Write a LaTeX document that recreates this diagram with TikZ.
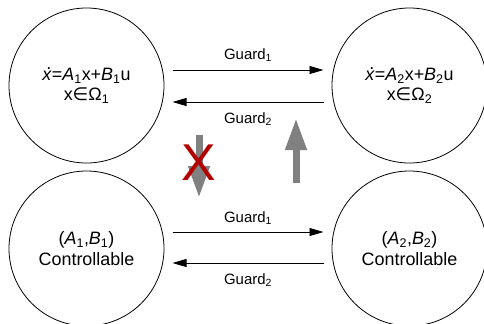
\documentclass[tikz,border=0pt]{standalone}
\usepackage{fontspec}
\setmainfont{Liberation Sans}
\newfontfamily\symfont{DejaVu Sans}
\usetikzlibrary{arrows.meta}
\newcommand{\xdot}{\rlap{\hspace{0.22em}\raisebox{0.62em}{.}}\textit{x}}
\newcommand{\lowidx}[1]{\textsubscript{#1}}
\tikzset{
  mode/.style={draw,circle,minimum size=155bp,inner sep=0pt,align=center,
    line width=.8bp,font=\fontsize{18}{20.5}\selectfont},
  guard/.style={-{Triangle[length=14bp,width=8bp]},line width=.9bp}}

\begin{document}
\begin{tikzpicture}[x=1bp,y=-1bp,
  guardlabel/.style={font=\fontsize{15}{17}\selectfont,inner sep=1bp},
  implies/.style={-{Triangle[length=32bp,width=20bp]},line width=7bp,
    draw=black!50},
  veto/.style={text=red!70!black,font=\fontsize{52}{52}\selectfont,
    inner sep=0pt}]
  \useasboundingbox (0,0) rectangle (484,323);

  % the two dynamics modes
  \node[mode] (dynA) at (86.5,85.5)
    {\xdot=\textit{A}\lowidx{1}x+\textit{B}\lowidx{1}u\\
     x{\symfont ∈}Ω\lowidx{1}};
  \node[mode] (dynB) at (409.5,85.5)
    {\xdot=\textit{A}\lowidx{2}x+\textit{B}\lowidx{2}u\\
     x{\symfont ∈}Ω\lowidx{2}};

  % controllability of each mode
  \node[mode] (ctrA) at (86.5,248.5)
    {(\textit{A}\lowidx{1},\textit{B}\lowidx{1})\\Controllable};
  \node[mode] (ctrB) at (409.5,248.5)
    {(\textit{A}\lowidx{2},\textit{B}\lowidx{2})\\Controllable};

  \draw[guard] ([shift={(86,-15.5)}]dynA.center) --
    node[guardlabel,above=7bp] {Guard\lowidx{1}}
    ([shift={(-86,-15.5)}]dynB.center);
  \draw[guard] ([shift={(-86,16.5)}]dynB.center) --
    node[guardlabel,below=9bp] {Guard\lowidx{2}}
    ([shift={(86,16.5)}]dynA.center);
  \draw[guard] ([shift={(86,-16.5)}]ctrA.center) --
    node[guardlabel,above=6bp] {Guard\lowidx{1}}
    ([shift={(-86,-16.5)}]ctrB.center);
  \draw[guard] ([shift={(-86,14.5)}]ctrB.center) --
    node[guardlabel,below=9bp] {Guard\lowidx{2}}
    ([shift={(86,14.5)}]ctrA.center);

  % implications between the rows
  \coordinate (downTop) at (199,135);
  \coordinate (downTip) at (199,198);
  \coordinate (upBase) at (296,183);
  \coordinate (upTip) at (296,118);
  \draw[implies] (downTop) -- (downTip);
  \draw[implies] (upBase) -- (upTip);
  \node[veto] (cross) at (199,163) {X};
\end{tikzpicture}
\end{document}
